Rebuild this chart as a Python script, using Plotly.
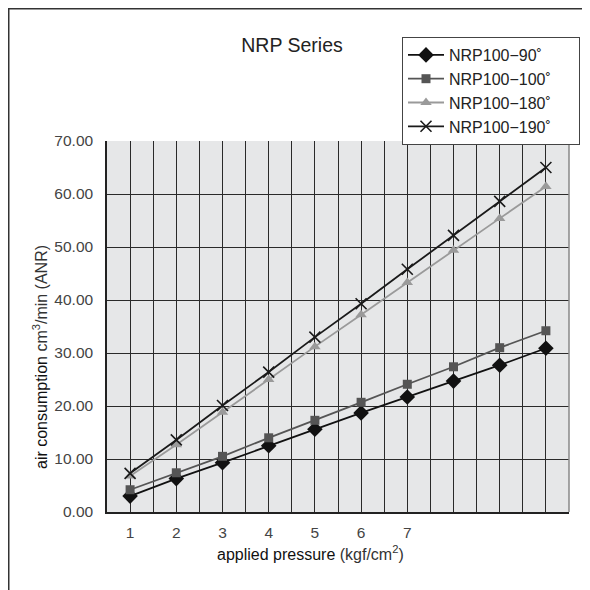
import plotly.graph_objects as go

pressure = [1, 2, 3, 4, 5, 6, 7, 8, 9, 10]
nrp_90 = [3.0, 6.3, 9.3, 12.5, 15.6, 18.7, 21.7, 24.7, 27.7, 30.9]
nrp_100 = [4.2, 7.4, 10.5, 14.0, 17.3, 20.7, 24.1, 27.4, 31.0, 34.2]
nrp_180 = [6.8, 12.7, 18.8, 25.0, 31.2, 37.2, 43.3, 49.4, 55.4, 61.4]
nrp_190 = [7.3, 13.6, 20.1, 26.4, 33.0, 39.3, 45.8, 52.2, 58.6, 65.0]
x_tick_vals = [1, 2, 3, 4, 5, 6, 7]
x_tick_text = ["1", "2", "3", "4", "5", "6", "7"]
series_names = ["NRP100\u221290\u02da", "NRP100\u2212100\u02da", "NRP100\u2212180\u02da", "NRP100\u2212190\u02da"]

FONT = "Liberation Sans, Arial, sans-serif"

# page body has an 8px margin, so the figure is drawn 8px smaller and offset
OFF = 8
W = H = 590 - OFF
L, T = 107 - OFF, 141 - OFF
R = W - (569 - OFF)
B = H - (512 - OFF)
PW, PH = W - L - R, H - T - B


def px_x(px):  # reference screen pixel -> paper x
    return (px - OFF - L) / PW


def px_y(py):  # reference screen pixel -> paper y
    return (H - B - (py - OFF)) / PH


fig = go.Figure()
styles = [
    (nrp_90, "#111111", "diamond", 12, None),
    (nrp_100, "#555555", "square", 9, None),
    (nrp_180, "#9a9a9a", "triangle-up", 10, None),
    (nrp_190, "#1a1a1a", "x-thin", 11, 1.6),
]
PAD = "\u00a0" * 5  # widen the legend box like the reference
for (vals, col, sym, sz, lw), name in zip(styles, series_names):
    marker = dict(symbol=sym, size=sz, color=col)
    if lw:
        marker["line"] = dict(color=col, width=lw)
    fig.add_trace(go.Scatter(
        x=pressure, y=vals, name=name + PAD, mode="lines+markers",
        line=dict(color=col, width=1.8), marker=marker,
    ))

fig.update_layout(
    width=W, height=H,
    margin=dict(l=L, r=R, t=T, b=B, autoexpand=False),
    paper_bgcolor="white",
    plot_bgcolor="#e6e7e8",
    font=dict(family=FONT, size=15, color="#333333"),
    title=dict(text="NRP Series", x=(292 - OFF) / W, xanchor="center", xref="container",
               y=1 - (45 - OFF) / H, yanchor="middle", yref="container",
               font=dict(size=19.5, color="#222222", family=FONT)),
    showlegend=True,
    legend=dict(
        x=px_x(402), y=px_y(37), xanchor="left", yanchor="top",
        bgcolor="white", bordercolor="#444444", borderwidth=1,
        font=dict(size=16, color="#222222", family=FONT),
        tracegroupgap=0, itemwidth=36,
    ),
    xaxis=dict(
        range=[0.5, 10.5], tickvals=x_tick_vals, ticktext=x_tick_text,
        showgrid=True, gridcolor="#2a2a2a", gridwidth=1.3,
        minor=dict(tick0=0.5, dtick=0.5, showgrid=True, gridcolor="#2a2a2a", gridwidth=1.3),
        showline=True, linecolor="#222222", linewidth=1.5,
        ticks="", tickfont=dict(size=15.5, color="#444444"), ticklabelstandoff=6,
        zeroline=False, mirror=False, automargin=False,
    ),
    yaxis=dict(
        range=[0, 70], dtick=10, tickformat=".2f",
        showgrid=True, gridcolor="#2a2a2a", gridwidth=1.3,
        showline=True, linecolor="#222222", linewidth=1.5,
        ticks="", tickfont=dict(size=15.5, color="#444444"), ticklabelstandoff=9,
        zeroline=False, automargin=False,
    ),
)

# axis titles placed like the reference
fig.add_annotation(text="applied pressure <span style='color:#333'>(kgf/cm<sup>2</sup>)</span>",
                   xref="paper", yref="paper", x=px_x(310), y=px_y(553),
                   xanchor="center", yanchor="middle", showarrow=False,
                   font=dict(size=16, color="#111111", family=FONT))
fig.add_annotation(text="air consumption <span style='color:#333'>cm<sup>3</sup>/min (ANR)</span>",
                   xref="paper", yref="paper", x=px_x(40), y=px_y(357),
                   xanchor="center", yanchor="middle", showarrow=False, textangle=-90,
                   font=dict(size=16, color="#111111", family=FONT))

# outer frame lines (left and top) as in the reference
fig.add_shape(type="line", xref="paper", yref="paper",
              x0=px_x(8.75), x1=px_x(8.75), y0=px_y(8), y1=px_y(600),
              line=dict(color="#333333", width=1.5))
fig.add_shape(type="line", xref="paper", yref="paper",
              x0=px_x(8), x1=px_x(600), y0=px_y(8.75), y1=px_y(8.75),
              line=dict(color="#333333", width=1.5))
# right edge of plot area
fig.add_shape(type="line", xref="paper", yref="paper",
              x0=1, x1=1, y0=0, y1=1,
              line=dict(color="#888888", width=1.5))

fig.write_html("out.html")
